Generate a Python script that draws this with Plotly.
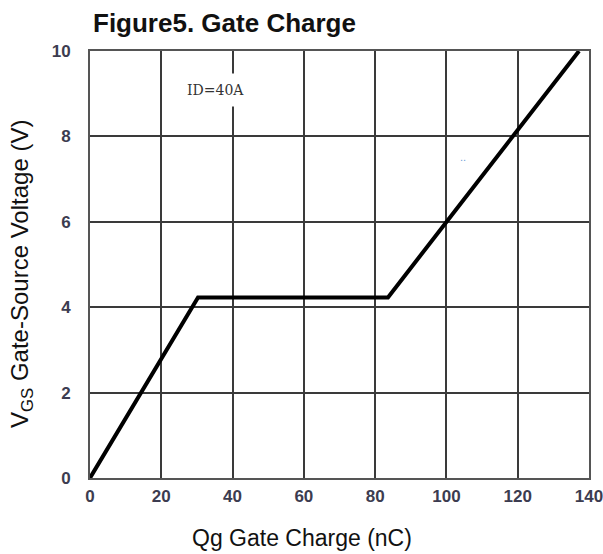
import plotly.graph_objects as go

qg = [0, 30.3, 83.6, 137.2]
vgs = [0, 4.23, 4.23, 10]
x_ticks = [0, 20, 40, 60, 80, 100, 120, 140]
y_ticks = [0, 2, 4, 6, 8, 10]
note_text = "ID=40A"

L, R, T, B = 90, 14, 51, 76
W, H = 603, 554
pw, ph = W - L - R, H - T - B

def px(xp):
    return (xp - L) / pw

def py(yp):
    return (H - B - yp) / ph

SANS = "Liberation Sans, Arial, sans-serif"

fig = go.Figure()
fig.add_trace(go.Scatter(x=qg, y=vgs, mode="lines",
                         line=dict(color="black", width=4), hoverinfo="skip"))

fig.add_annotation(x=35.1, y=9.08, text=note_text, showarrow=False,
                   font=dict(family="DejaVu Serif, Liberation Serif, serif", size=14, color="#333"),
                   bgcolor="white", borderpad=8)
fig.add_annotation(x=104.7, y=7.51, text="..", showarrow=False,
                   font=dict(family=SANS, size=11, color="#6f9ed6"))

# axis titles
fig.add_annotation(xref="paper", yref="paper", x=px(302), y=py(538), text="Qg Gate Charge (nC)",
                   showarrow=False, xanchor="center", yanchor="middle",
                   font=dict(family=SANS, size=23, color="#111"))
fig.add_annotation(xref="paper", yref="paper", x=px(21), y=py(274),
                   text="V<sub>GS</sub> Gate-Source Voltage (V)", textangle=-90,
                   showarrow=False, xanchor="center", yanchor="middle",
                   font=dict(family=SANS, size=24, color="#111"))

tickfont = dict(family=SANS, size=17, color="#3c3c50", weight="bold")

fig.update_layout(
    width=W, height=H,
    margin=dict(l=L, r=R, t=T, b=B),
    paper_bgcolor="white", plot_bgcolor="white",
    showlegend=False,
    title=dict(text="<b>Figure5. Gate Charge</b>", x=93 / W, xanchor="left",
               y=1 - 23 / H, yanchor="middle",
               font=dict(family=SANS, size=26, color="#111")),
    xaxis=dict(range=[0, 140], tickvals=x_ticks, showgrid=True, gridcolor="#3a3a3a", gridwidth=1.5,
               showline=True, linecolor="#555", linewidth=2, mirror=True, zeroline=False,
               ticks="", ticklen=0, ticklabelstandoff=2, ticklabeloverflow="allow",
               automargin=False, tickfont=tickfont),
    yaxis=dict(range=[0, 10], tickvals=y_ticks, showgrid=True, gridcolor="#3a3a3a", gridwidth=1.5,
               showline=True, linecolor="#555", linewidth=2, mirror=True, zeroline=False,
               ticks="", ticklen=0, ticklabelstandoff=14, automargin=False, tickfont=tickfont),
)

fig.write_html("out.html")
